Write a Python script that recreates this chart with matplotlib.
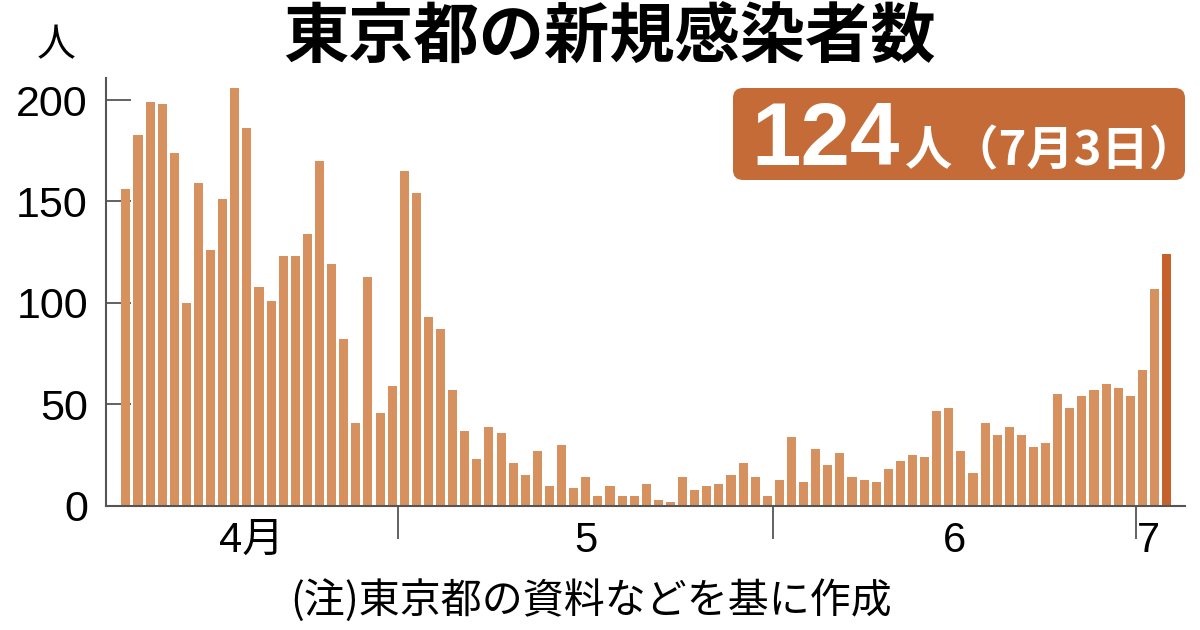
import numpy as np
import pandas as pd
import matplotlib
matplotlib.use("Agg")
import matplotlib.pyplot as plt
from matplotlib.patches import FancyBboxPatch
from matplotlib.transforms import IdentityTransform

plt.rcParams['font.family'] = ['Liberation Sans', 'Noto Sans CJK JP', 'DejaVu Sans']

# daily new cases, 2020-04-08 .. 2020-07-03
april = [156, 183, 199, 198, 174, 100, 159, 126, 151, 206, 186, 108, 101, 123,
         123, 134, 170, 119, 82, 41, 113, 46, 59]
may = [165, 154, 93, 87, 57, 37, 23, 39, 36, 21, 15, 27, 10, 30, 9, 14, 5, 10,
       5, 5, 11, 3, 2, 14, 8, 10, 11, 15, 21, 14, 5]
june = [13, 34, 12, 28, 20, 26, 14, 13, 12, 18, 22, 25, 24, 47, 48, 27, 16, 41,
        35, 39, 35, 29, 31, 55, 48, 54, 57, 60, 58, 54]
july = [67, 107, 124]
values = april + may + june + july
dates = pd.date_range("2020-04-08", periods=len(values), freq="D")

month_labels = ["4月", "5", "6", "7"]
yticks = [0, 50, 100, 150, 200]

bar_color = "#D6915F"
last_color = "#C5622B"
box_color = "#C56B37"
axis_color = "#555555"
cjk = ['Noto Sans CJK JP', 'DejaVu Sans']

fig = plt.figure(figsize=(12, 6.3), dpi=100)
ax = fig.add_axes([0.0883, 0.197, 0.899, 0.679])

idx = np.arange(len(values))
colors = [bar_color] * (len(values) - 1) + [last_color]
ax.bar(idx, values, width=0.75, color=colors, zorder=2)

ax.set_xlim(-1.65, len(values) + 0.5)
ax.set_ylim(0, 210.8)

# month boundaries and month centres
months = dates.month
bounds = [i - 0.5 for i in range(1, len(values)) if months[i] != months[i - 1]]
centers = [idx[months == m].mean() for m in sorted(set(months))]
centers[0] -= 0.6
centers[-1] -= 0.5

ax.set_xticks(bounds)
ax.set_xticklabels([])
ax.tick_params(axis='x', which='major', direction='out', length=24, width=1.3,
               color=axis_color)
ax.set_xticks(centers, minor=True)
ax.set_xticklabels(month_labels, minor=True, fontsize=30)
ax.tick_params(axis='x', which='minor', length=0, pad=11)

ax.set_yticks(yticks)
ax.set_yticklabels([str(v) for v in yticks], fontsize=31)
ax.tick_params(axis='y', direction='in', length=18, width=1.3, color=axis_color,
               pad=13)

for s in ['top', 'right']:
    ax.spines[s].set_visible(False)
for s in ['left', 'bottom']:
    ax.spines[s].set_color(axis_color)
    ax.spines[s].set_linewidth(1.5)

fig.text(0.508, 0.94, "東京都の新規感染者数", ha='center', va='center',
         fontsize=47, fontweight='bold', family=cjk)
fig.text(0.047, 0.928, "人", ha='center', va='center', fontsize=28, family=cjk)
fig.text(0.4925, 0.047, "(注)東京都の資料などを基に作成", ha='center', va='center',
         fontsize=29.5, family=cjk)

box = FancyBboxPatch((733, 630 - 180), 452, 92,
                     boxstyle="round,pad=0,rounding_size=10",
                     transform=IdentityTransform(), facecolor=box_color,
                     edgecolor='none')
fig.add_artist(box)
fig.text(0.626, 1 - 165 / 630, f"{values[-1]}", ha='left', va='baseline',
         fontsize=64, fontweight='bold', color='white',
         family=['Liberation Sans', 'DejaVu Sans'])
fig.text(0.754, 1 - 165 / 630, "人（7月3日）", ha='left', va='baseline',
         fontsize=34, fontweight='bold', color='white', family=cjk)

fig.savefig("out.png", dpi=100)
